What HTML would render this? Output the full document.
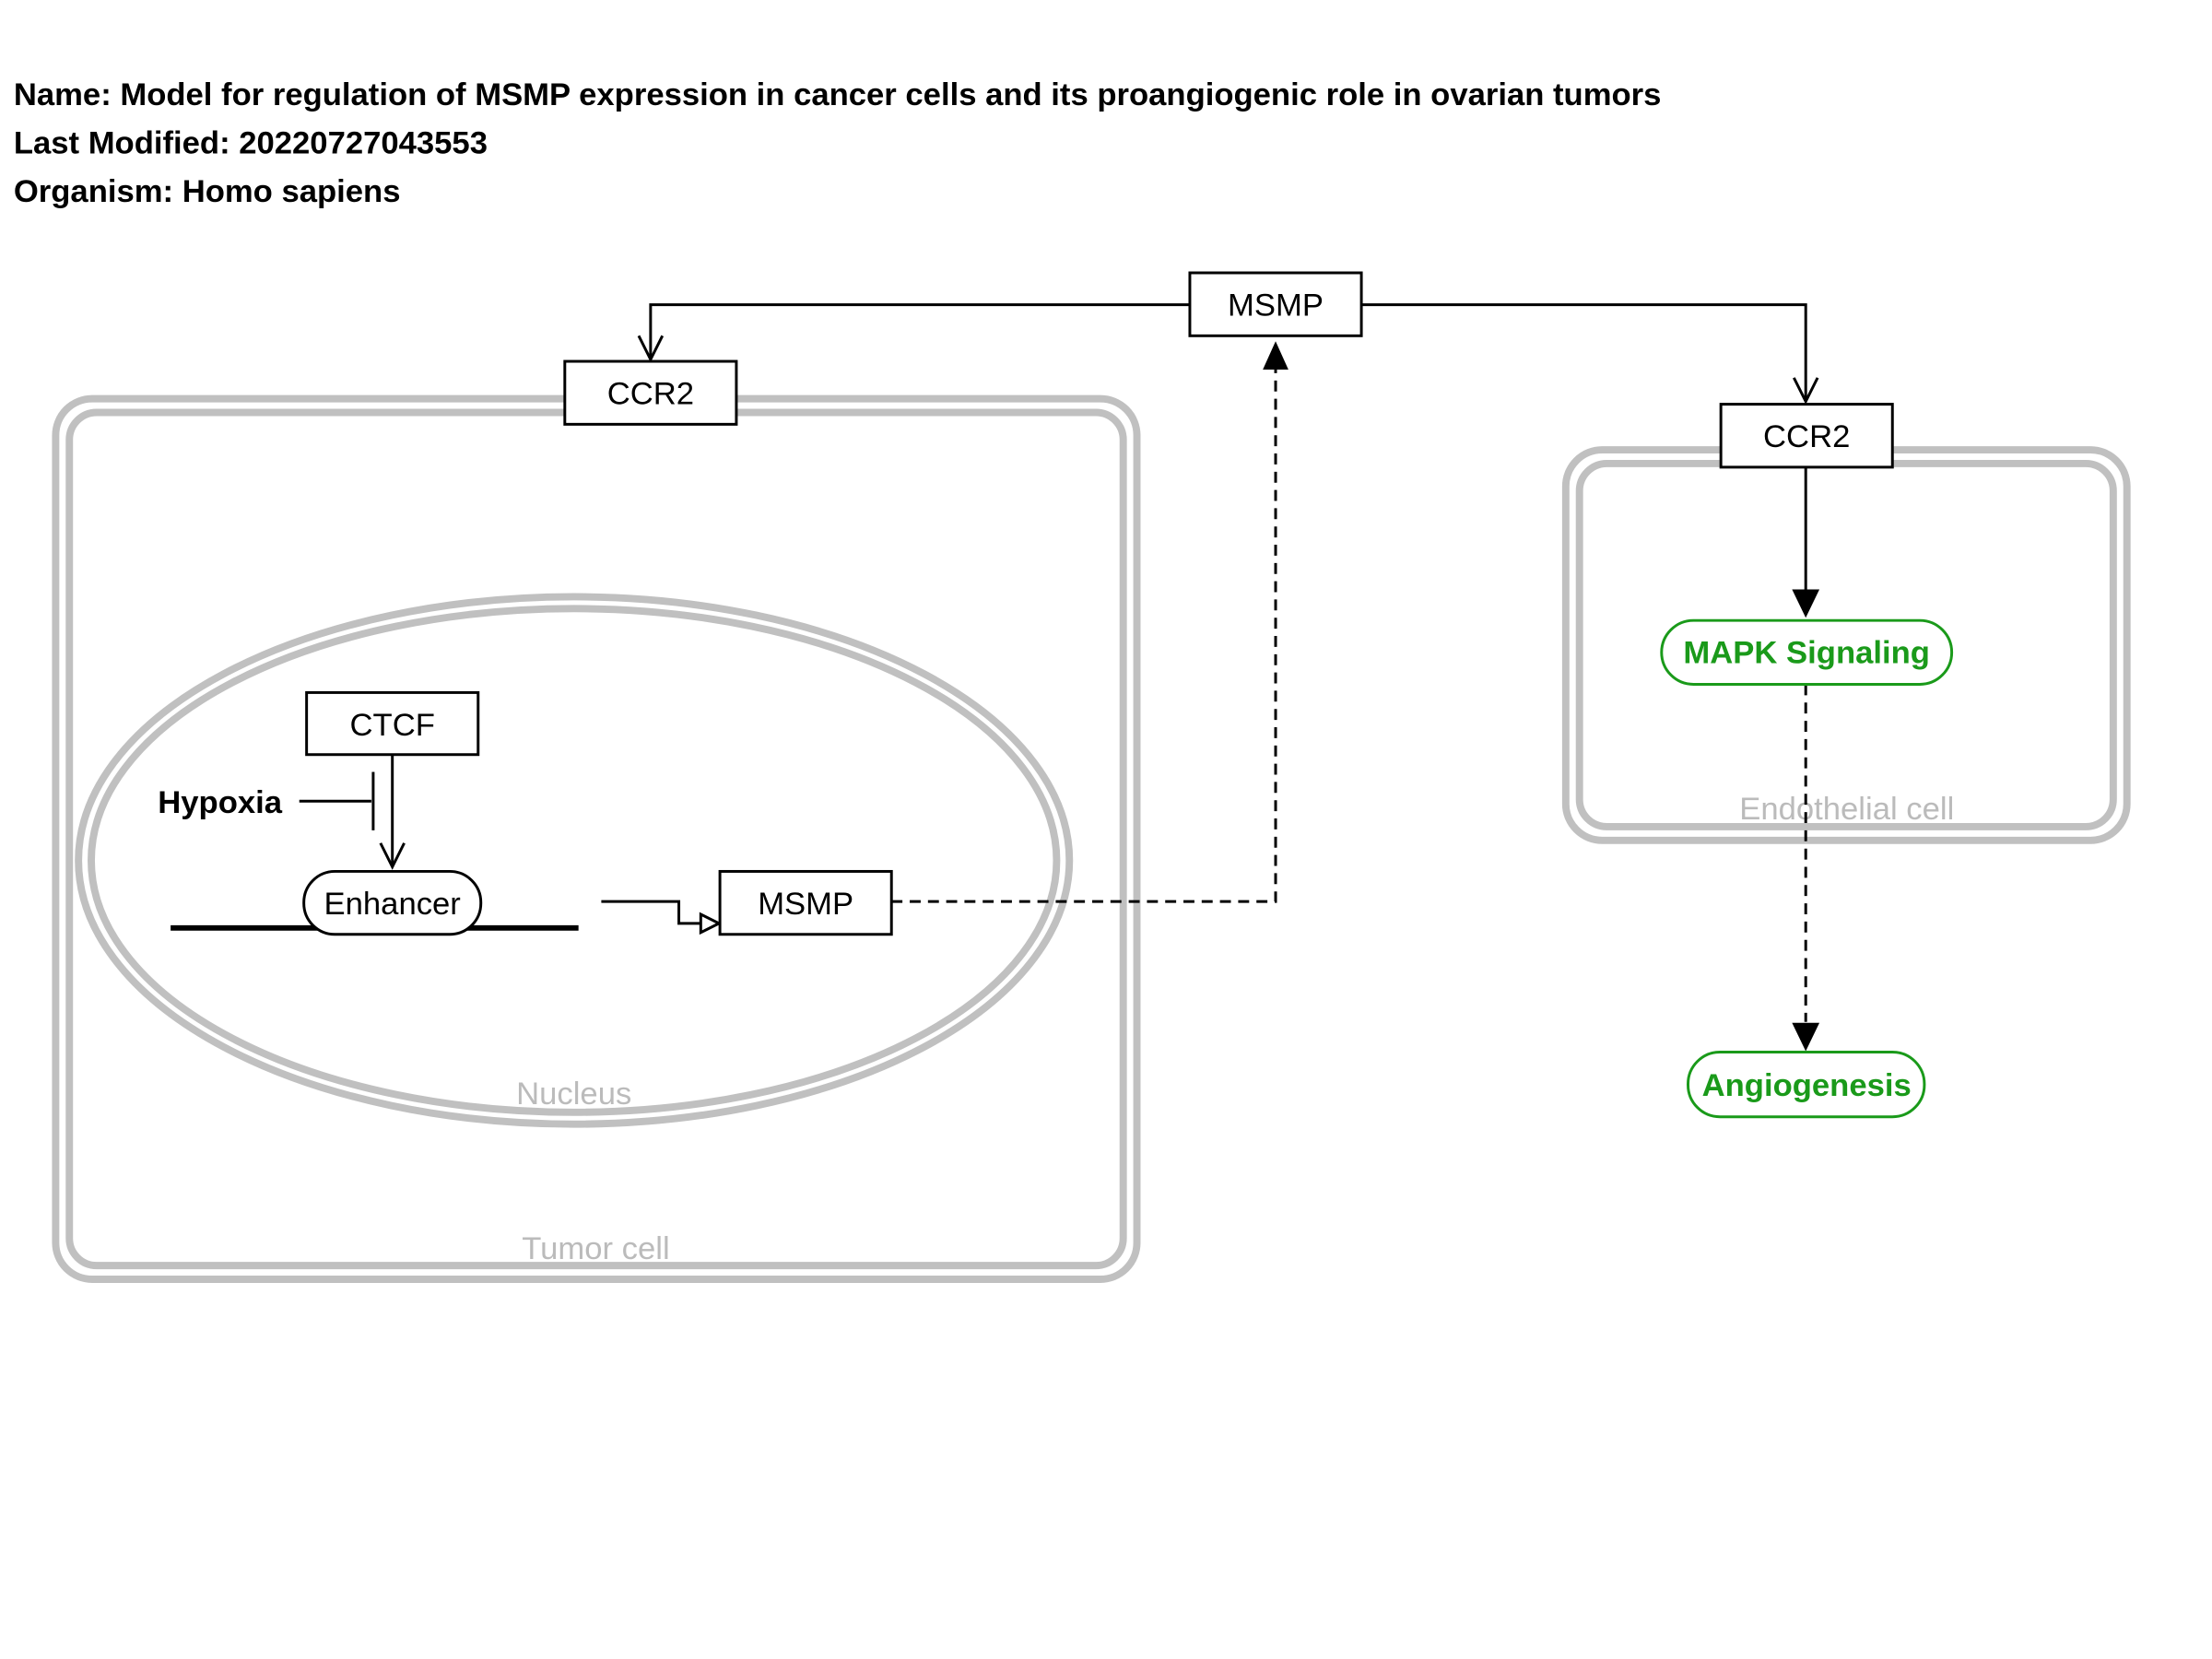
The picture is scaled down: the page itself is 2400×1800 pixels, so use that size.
<!DOCTYPE html>
<html><head><meta charset="utf-8"><style>
html,body{margin:0;padding:0;background:#fff;}
svg{display:block;}
text{font-family:"Liberation Sans",sans-serif;}
</style></head><body>
<svg width="2400" height="1800" viewBox="0 0 2400 1800" xmlns="http://www.w3.org/2000/svg">
<g transform="scale(0.99)">
<g font-weight="bold" font-size="35" fill="#000">
<text x="15" y="115">Name: Model for regulation of MSMP expression in cancer cells and its proangiogenic role in ovarian tumors</text>
<text x="15" y="168">Last Modified: 20220727043553</text>
<text x="15" y="221">Organism: Homo sapiens</text>
</g>
<g fill="none" stroke="#c0c0c0" stroke-width="8">
<rect x="61" y="437" width="1185" height="965" rx="40"/>
<rect x="76" y="452" width="1155" height="935" rx="30"/>
<rect x="1716" y="493" width="615" height="428" rx="40"/>
<rect x="1731" y="508" width="585" height="398" rx="30"/>
<ellipse cx="629" cy="943" rx="543" ry="289"/>
<ellipse cx="629" cy="943" rx="529" ry="276"/>
</g>
<g fill="#bbbbbb" font-size="35" text-anchor="middle">
<text x="629" y="1210">Nucleus</text>
<text x="653" y="1380">Tumor cell</text>
<text x="2024" y="898">Endothelial cell</text>
</g>
<g fill="none" stroke="#000" stroke-width="3">
<polyline points="1304,334 713,334 713,394"/>
<polyline points="1492,334 1979,334 1979,440"/>
<polyline points="700,368 713,394 726,368"/>
<polyline points="1966,414 1979,440 1992,414"/>
<line x1="1979" y1="512" x2="1979" y2="648"/>
<line x1="430" y1="827" x2="430" y2="950"/>
<polyline points="417,924 430,950 443,924"/>
<line x1="328" y1="878" x2="407" y2="878"/>
<line x1="409" y1="846" x2="409" y2="910"/>
<polyline points="659,988 744,988 744,1012 768,1012"/>
<polygon points="768,1002 788,1012 768,1022"/>
<g stroke-dasharray="12,8">
<polyline points="977,988 1398,988 1398,405"/>
<line x1="1979" y1="750" x2="1979" y2="1120"/>
</g>
</g>
<line x1="187" y1="1017" x2="634" y2="1017" stroke="#000" stroke-width="6"/>
<polygon points="1384,405 1398,374 1412,405" fill="#000"/>
<polygon points="1964,646 1979,677 1994,646" fill="#000"/>
<polygon points="1964,1121 1979,1152 1994,1121" fill="#000"/>
<g fill="#fff" stroke="#000" stroke-width="3">
<rect x="1304" y="299" width="188" height="69"/>
<rect x="619" y="396" width="188" height="69"/>
<rect x="1886" y="443" width="188" height="69"/>
<rect x="336" y="759" width="188" height="68"/>
<rect x="333" y="955" width="194" height="69" rx="34"/>
<rect x="789" y="955" width="188" height="69"/>
</g>
<g font-size="35" text-anchor="middle" fill="#000">
<text x="1398" y="346">MSMP</text>
<text x="713" y="443">CCR2</text>
<text x="1980" y="490">CCR2</text>
<text x="430" y="806">CTCF</text>
<text x="430" y="1002">Enhancer</text>
<text x="883" y="1002">MSMP</text>
</g>
<text x="173" y="891" font-size="35" font-weight="bold">Hypoxia</text>
<g fill="#fff" stroke="#1a9a1a" stroke-width="3">
<rect x="1821" y="680" width="318" height="70" rx="35"/>
<rect x="1850" y="1153" width="259" height="71" rx="35"/>
</g>
<g fill="#1a9a1a" font-size="35" font-weight="bold" text-anchor="middle">
<text x="1980" y="727">MAPK Signaling</text>
<text x="1980" y="1201">Angiogenesis</text>
</g>
</g>
</svg>
</body></html>
